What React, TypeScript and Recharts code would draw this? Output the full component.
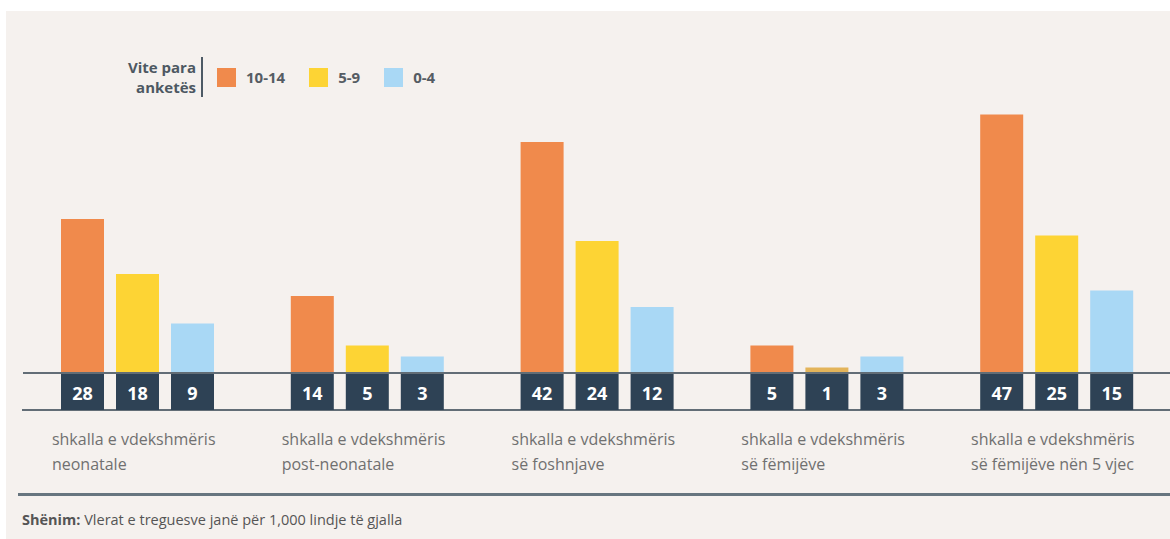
import { BarChart, Bar, XAxis, YAxis, Legend, LabelList, Cell } from 'recharts'

const categories = [
  'shkalla e vdekshmëris\nneonatale',
  'shkalla e vdekshmëris\npost-neonatale',
  'shkalla e vdekshmëris\nsë foshnjave',
  'shkalla e vdekshmëris\nsë fëmijëve',
  'shkalla e vdekshmëris\nsë fëmijëve nën 5 vjec',
]
const years1014 = [28, 14, 42, 5, 47]
const years59 = [18, 5, 24, 1, 25]
const years04 = [9, 3, 12, 3, 15]

const seriesNames = ['10-14', '5-9', '0-4']
const colors = ['#f08a4c', '#fdd434', '#a9d8f5']

const data = categories.map((name, i) => ({
  name,
  a: years1014[i],
  b: years59[i],
  c: years04[i],
}))

const font = '"Open Sans", "Noto Sans", sans-serif'

const ValueBox = (props: any) => {
  const { x, y, width, height, value } = props
  const base = Number(y) + Number(height)
  return (
    <g>
      <rect x={x} y={base + 1} width={width} height={36} fill="#2e4255" />
      <text
        x={Number(x) + Number(width) / 2}
        y={base + 20}
        textAnchor="middle"
        dominantBaseline="central"
        fill="#ffffff"
        fontSize={18}
        fontWeight={700}
        fontFamily={font}
      >
        {value}
      </text>
    </g>
  )
}

const CategoryTick = ({ x, y, payload }: any) => {
  const lines = String(payload.value).split('\n')
  return (
    <g>
      {lines.map((line, i) => (
        <text key={i} x={x - 86} y={y + 72 + i * 25} fill="#707070" fontSize={16} fontFamily={font}>
          {line}
        </text>
      ))}
    </g>
  )
}

const LegendBox = ({ payload }: any) => {
  const items = [...(payload || [])].sort(
    (p: any, q: any) => seriesNames.indexOf(p.value) - seriesNames.indexOf(q.value)
  )
  return (
    <div style={{ display: 'flex', alignItems: 'center', fontFamily: font }}>
      <div style={{ width: 86, textAlign: 'right', fontSize: 15, fontWeight: 700, color: '#4d5862', lineHeight: '20px' }}>
        Vite para
        <br />
        anketës
      </div>
      <div style={{ width: 2, height: 40, background: '#4d5a65', marginLeft: 5, marginRight: 14 }} />
      {items.map((p: any, i: number) => (
        <div key={i} style={{ display: 'flex', alignItems: 'center', marginRight: 24 }}>
          <div style={{ width: 19, height: 19, background: p.color, marginRight: 10 }} />
          <span style={{ fontSize: 15, fontWeight: 700, color: '#555c63' }}>{p.value}</span>
        </div>
      ))}
    </div>
  )
}

export default function App() {
  return (
    <div style={{ position: 'absolute', left: 0, top: 0, width: 1170, height: 539, overflow: 'hidden', background: '#ffffff' }}>
      <div style={{ position: 'absolute', left: 6, top: 11, right: 0, bottom: 0, background: '#f5f1ee' }} />
      <div style={{ position: 'absolute', left: 22, top: 409, width: 1150, height: 2, background: '#626d76' }} />
      <div style={{ position: 'absolute', left: 18, top: 493, width: 1160, height: 3, background: '#67757f' }} />
      <div style={{ position: 'absolute', left: 22, top: 510, fontFamily: font, fontSize: 14.5, color: '#555555' }}>
        <b>Shënim:</b> Vlerat e treguesve janë për 1,000 lindje të gjalla
      </div>
      <div style={{ position: 'absolute', left: 0, top: 0 }}>
        <BarChart
          width={1180}
          height={539}
          data={data}
          margin={{ top: 98, right: 8, left: 23, bottom: 0 }}
          barSize={43}
          barGap={12}
        >
          <YAxis hide domain={[0, 50]} />
          <XAxis
            dataKey="name"
            height={166}
            interval={0}
            tickLine={false}
            tickSize={0}
            tickMargin={0}
            axisLine={{ stroke: '#626d76', strokeWidth: 2 }}
            tick={<CategoryTick />}
          />
          <Legend
            layout="horizontal"
            verticalAlign="middle"
            content={<LegendBox />}
            wrapperStyle={{ position: 'absolute', left: 110, top: 57, width: 420 }}
          />
          <Bar dataKey="a" name={seriesNames[0]} fill={colors[0]} isAnimationActive={false}>
            <LabelList dataKey="a" content={<ValueBox />} />
          </Bar>
          <Bar dataKey="b" name={seriesNames[1]} fill={colors[1]} isAnimationActive={false}>
            {years59.map((v, i) => (
              <Cell key={i} fill={v < 2 ? '#e3b45a' : colors[1]} />
            ))}
            <LabelList dataKey="b" content={<ValueBox />} />
          </Bar>
          <Bar dataKey="c" name={seriesNames[2]} fill={colors[2]} isAnimationActive={false}>
            <LabelList dataKey="c" content={<ValueBox />} />
          </Bar>
        </BarChart>
      </div>
    </div>
  )
}
